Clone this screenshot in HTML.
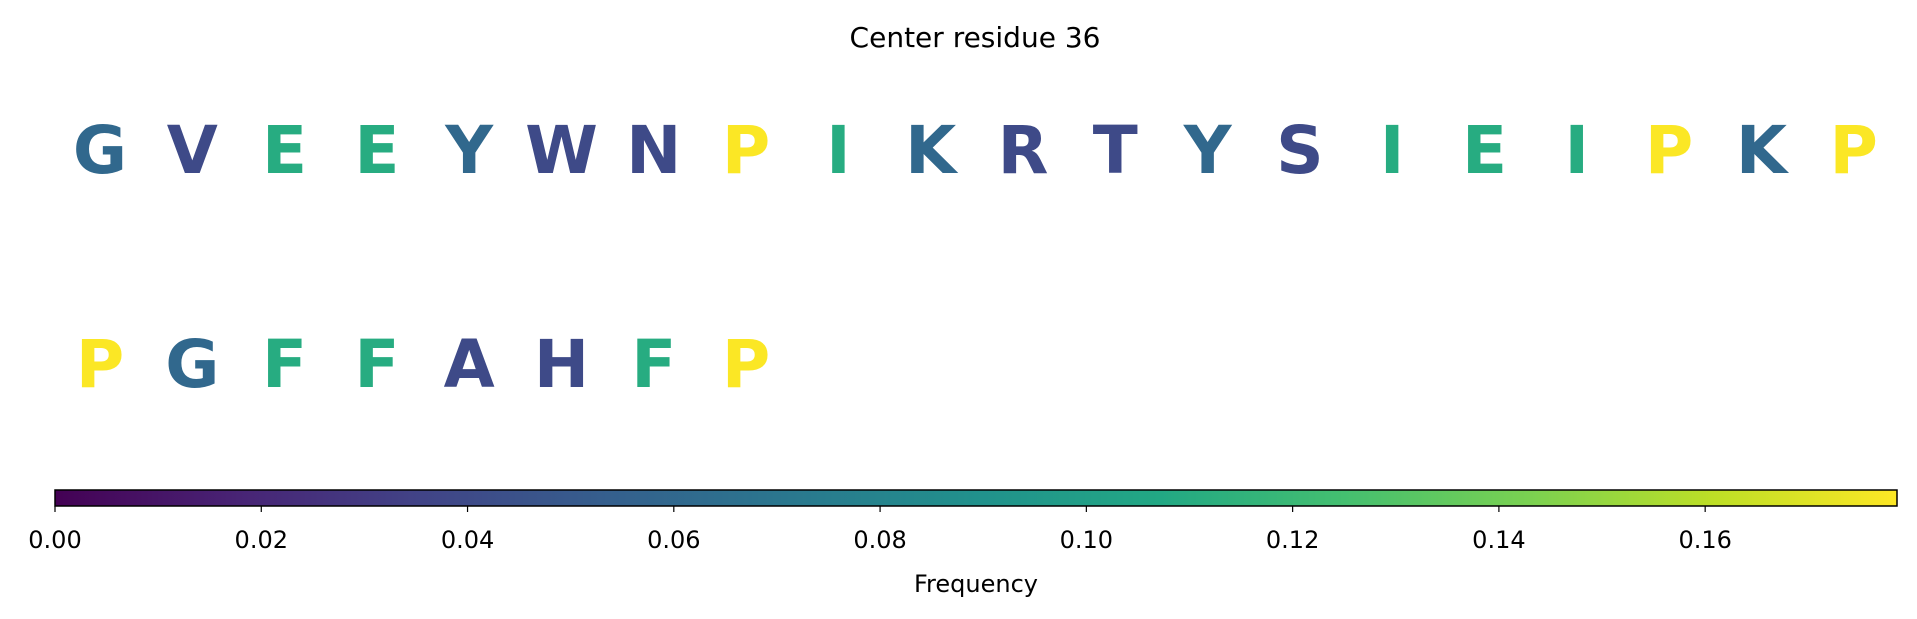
<!DOCTYPE html>
<html><head><meta charset="utf-8"><style>
html,body{margin:0;padding:0;background:#fff;}
svg{display:block;font-family:"DejaVu Sans","Liberation Sans",sans-serif;}
</style></head><body>
<svg id="chart" width="1917" height="619" viewBox="0 0 1917 619">
<defs><linearGradient id="vir" x1="0" x2="1" y1="0" y2="0">
<stop offset="0" stop-color="#440154"/><stop offset="0.1" stop-color="#482475"/><stop offset="0.2" stop-color="#414487"/>
<stop offset="0.3" stop-color="#355f8d"/><stop offset="0.4" stop-color="#2a788e"/><stop offset="0.5" stop-color="#21918c"/>
<stop offset="0.6" stop-color="#22a884"/><stop offset="0.7" stop-color="#44bf70"/><stop offset="0.8" stop-color="#7ad151"/>
<stop offset="0.9" stop-color="#bddf26"/><stop offset="1" stop-color="#fde725"/></linearGradient></defs>
<text x="975" y="47" text-anchor="middle" font-size="28" fill="#000">Center residue 36</text>
<g id="letters"></g>
<rect x="55" y="490" width="1842" height="16" fill="url(#vir)" stroke="#000" stroke-width="1.5"/>
<g id="ticks"></g>
<text x="976" y="592" text-anchor="middle" font-size="24" fill="#000">Frequency</text>
</svg>
<script>
const row1Letters = ["G","V","E","E","Y","W","N","P","I","K","R","T","Y","S","I","E","I","P","K","P"];
const row1Freq = [0.06,0.04,0.11,0.11,0.06,0.04,0.04,0.178,0.11,0.06,0.04,0.04,0.06,0.04,0.11,0.11,0.11,0.178,0.06,0.178];
const row2Letters = ["P","G","F","F","A","H","F","P"];
const row2Freq = [0.178,0.06,0.11,0.11,0.04,0.04,0.11,0.178];
const tickValues = [0,0.02,0.04,0.06,0.08,0.10,0.12,0.14,0.16];
const tickLabels = ["0.00","0.02","0.04","0.06","0.08","0.10","0.12","0.14","0.16"];
const vmax = 0.1786;
const NS="http://www.w3.org/2000/svg";
const stops=["#440154","#482475","#414487","#355f8d","#2a788e","#21918c","#22a884","#44bf70","#7ad151","#bddf26","#fde725"];
function hex(h){return [1,3,5].map(i=>parseInt(h.substr(i,2),16));}
function viridis(t){t=Math.max(0,Math.min(1,t));const p=t*10,i=Math.min(9,Math.floor(p)),f=p-i;const a=hex(stops[i]),b=hex(stops[i+1]);return "rgb("+a.map((v,k)=>Math.round(v+(b[k]-v)*f)).join(",")+")";}
function xPos(i){return 100+i*92.3;}
function cbX(v){return 55+v/vmax*1842;}
const lg=document.getElementById("letters");
function drawRow(letters,freqs,y,name){
  letters.forEach((L,i)=>{
    const t=document.createElementNS(NS,"text");
    t.setAttribute("x",xPos(i));t.setAttribute("y",y);
    t.setAttribute("text-anchor","middle");t.setAttribute("font-size","66");t.setAttribute("font-weight","bold");
    t.setAttribute("fill",viridis(freqs[i]/vmax));
    
    
    t.textContent=L;lg.appendChild(t);
  });
}
drawRow(row1Letters,row1Freq,173,"row1");
drawRow(row2Letters,row2Freq,387,"row2");
const tg=document.getElementById("ticks");
tickValues.forEach((v,i)=>{
  const x=cbX(v);
  const l=document.createElementNS(NS,"line");
  l.setAttribute("x1",x);l.setAttribute("x2",x);l.setAttribute("y1",506);l.setAttribute("y2",512);
  l.setAttribute("stroke","#000");l.setAttribute("stroke-width","1.2");
  
  
  tg.appendChild(l);
  const t=document.createElementNS(NS,"text");
  t.setAttribute("x",x);t.setAttribute("y",548);t.setAttribute("text-anchor","middle");t.setAttribute("font-size","24");
  
  
  t.textContent=tickLabels[i];tg.appendChild(t);
});
</script>
</body></html>
